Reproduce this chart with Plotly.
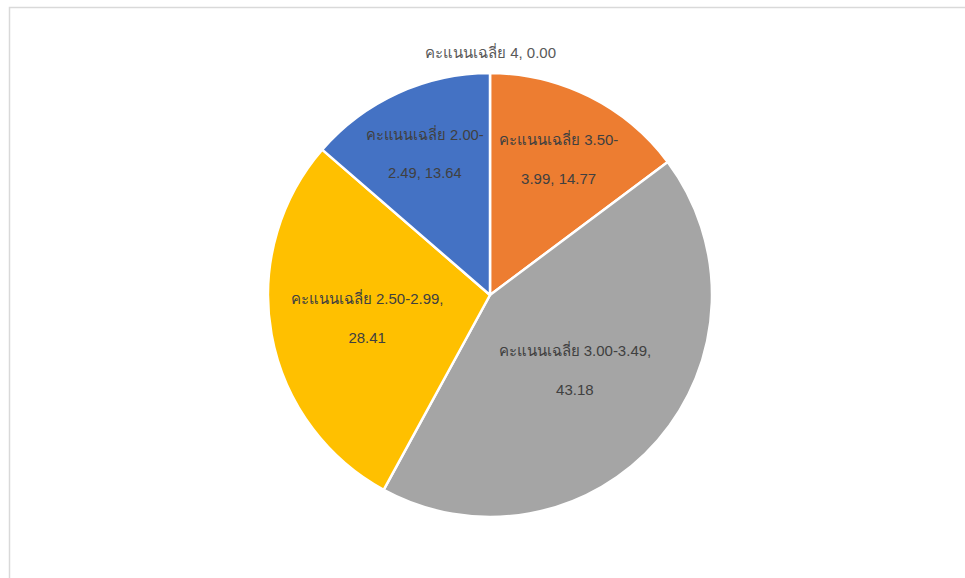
import plotly.graph_objects as go

labels = ["คะแนนเฉลี่ย 4", "คะแนนเฉลี่ย 3.50-3.99", "คะแนนเฉลี่ย 3.00-3.49",
          "คะแนนเฉลี่ย 2.50-2.99", "คะแนนเฉลี่ย 2.00-2.49"]
values = [0.00, 14.77, 43.18, 28.41, 13.64]
colors = ["#5B9BD5", "#ED7D31", "#A5A5A5", "#FFC000", "#4472C4"]
texts = ["",
         "คะแนนเฉลี่ย 3.50-<br><br>3.99, 14.77",
         "คะแนนเฉลี่ย 3.00-3.49,<br><br>43.18",
         "คะแนนเฉลี่ย 2.50-2.99,<br><br>28.41",
         "คะแนนเฉลี่ย 2.00-<br><br>2.49, 13.64"]
zero_label = "คะแนนเฉลี่ย 4, 0.00"

W, H = 965, 578
cx, cy, r = 490, 295, 222
FONT = "Liberation Sans, Arial, sans-serif"

fig = go.Figure(go.Pie(
    labels=labels, values=values, text=texts,
    textinfo="text", hoverinfo="label+value",
    sort=False, direction="clockwise", rotation=0,
    marker=dict(colors=colors, line=dict(color="white", width=2.5)),
    textposition=["none", "inside", "inside", "inside", "inside"],
    insidetextorientation="horizontal",
    textfont=dict(family=FONT, size=15, color="#404040"),
    showlegend=False,
    domain=dict(x=[(cx - r) / W, (cx + r) / W], y=[1 - (cy + r) / H, 1 - (cy - r) / H]),
))

fig.add_annotation(text=zero_label, xref="paper", yref="paper",
                   x=cx / W, y=1 - (cy - r - 10) / H, xanchor="center", yanchor="bottom",
                   showarrow=False, font=dict(family=FONT, size=15, color="#595959"))

fig.add_shape(type="rect", xref="paper", yref="paper",
              x0=9.5 / W, x1=1.02, y0=-0.02, y1=1 - 7.5 / H,
              line=dict(color="#D9D9D9", width=1.5), fillcolor="rgba(0,0,0,0)")

fig.update_layout(width=W, height=H, margin=dict(l=0, r=0, t=0, b=0),
                  paper_bgcolor="white", plot_bgcolor="white")
fig.write_html("out.html", post_script="document.body.style.margin='0px';",
               config={"displayModeBar": False})
